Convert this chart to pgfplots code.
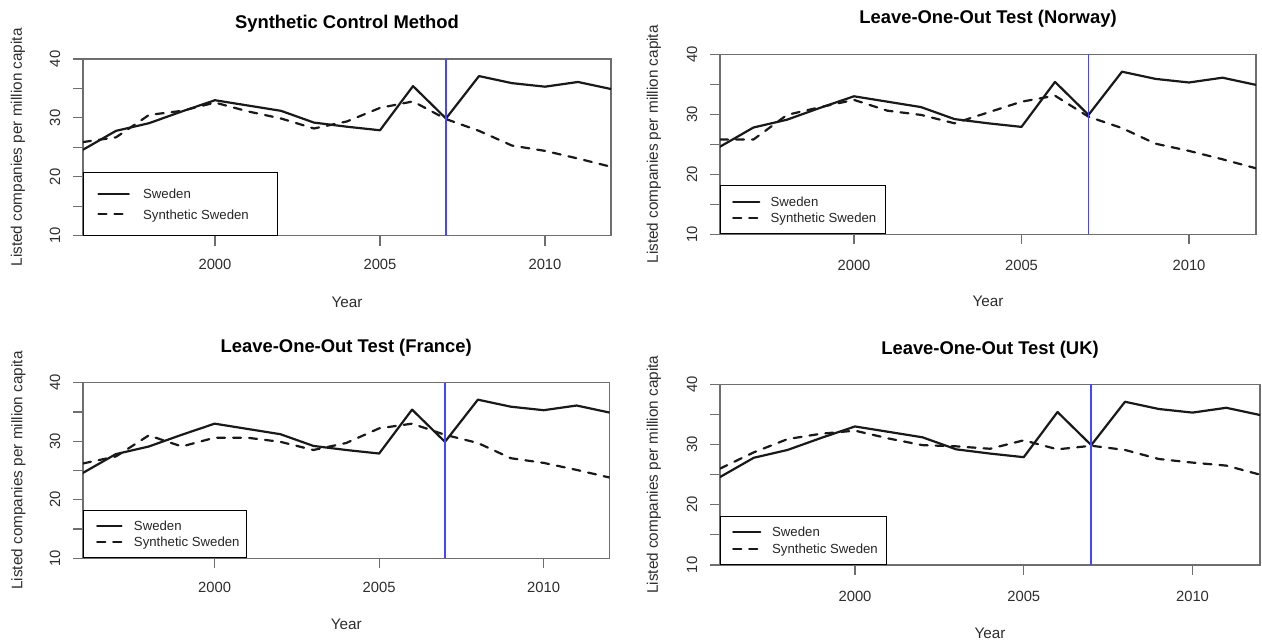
\documentclass[border=0pt]{standalone}
\usepackage{pgfplots}
\pgfplotsset{compat=1.18}
\usepackage{fontspec}
\setmainfont{Liberation Sans}

\definecolor{axgray}{RGB}{110,110,110}
\definecolor{txtgray}{RGB}{45,45,45}
\definecolor{vblue}{RGB}{70,70,255}
\definecolor{lineblk}{RGB}{25,25,25}

% Sweden, actual series (same in every panel)
\pgfplotstableread{
year val
1996 24.6
1997 27.8
1998 29.1
1999 31.1
2000 33.0
2001 32.1
2002 31.2
2003 29.2
2004 28.5
2005 27.9
2006 35.4
2007 29.9
2008 37.1
2009 35.9
2010 35.3
2011 36.1
2012 34.9
}\sweden

% Synthetic Sweden, full donor pool
\pgfplotstableread{
year val
1996 25.9
1997 26.7
1998 30.5
1999 31.2
2000 32.6
2001 31.1
2002 29.9
2003 28.2
2004 29.4
2005 31.7
2006 32.8
2007 29.8
2008 27.8
2009 25.3
2010 24.4
2011 23.1
2012 21.7
}\synall

% Synthetic Sweden without Norway
\pgfplotstableread{
year val
1996 25.8
1997 25.8
1998 29.9
1999 31.2
2000 32.4
2001 30.6
2002 29.9
2003 28.5
2004 30.3
2005 32.1
2006 33.1
2007 29.6
2008 27.7
2009 25.1
2010 23.9
2011 22.5
2012 21.0
}\synnor

% Synthetic Sweden without France
\pgfplotstableread{
year val
1996 26.2
1997 27.4
1998 31.0
1999 29.1
2000 30.6
2001 30.6
2002 29.9
2003 28.5
2004 29.7
2005 32.2
2006 33.0
2007 31.1
2008 29.7
2009 27.1
2010 26.3
2011 25.1
2012 23.8
}\synfra

% Synthetic Sweden without the UK
\pgfplotstableread{
year val
1996 26.0
1997 28.7
1998 30.9
1999 31.8
2000 32.3
2001 31.0
2002 29.9
2003 29.7
2004 29.3
2005 30.7
2006 29.2
2007 29.8
2008 29.1
2009 27.6
2010 27.0
2011 26.5
2012 25.0
}\synuk

\pgfplotsset{
  panel/.style={
    scale only axis,
    xmin=1996, xmax=2012, ymin=10, ymax=40,
    xtick={2000,2005,2010},
    ytick={10,15,...,40},
    yticklabels={10,,20,,30,,40},
    tick pos=left,
    tick align=outside,
    major tick length=10pt,
    axis line style={draw=axgray, line width=1.2pt},
    tick style={draw=axgray, line width=1.2pt},
    /pgf/number format/assume math mode=true,
    /pgf/number format/1000 sep={},
    scaled ticks=false,
    tick label style={font=\fontsize{14.8}{16}\selectfont, text=txtgray},
    xticklabel style={anchor=center},
    yticklabel style={anchor=center, rotate=90},
    yticklabel shift=18pt,
    title style={font=\fontsize{18.4}{20}\selectfont\bfseries, text=black,
      at={(axis description cs:0.5,1)}, anchor=center},
    xlabel style={font=\fontsize{15.3}{17}\selectfont, text=txtgray,
      at={(axis description cs:0.5,0)}, anchor=center},
    ylabel style={font=\fontsize{15.3}{17}\selectfont, text=txtgray, anchor=center},
    xlabel={Year},
    ylabel={Listed companies per million capita},
    legend cell align=left,
    legend image code/.code={%
      \draw[##1] (0pt,0pt) -- (\llen,0pt);
    },
    legend style={at={(axis description cs:0,0)}, anchor=south west,
      draw=black, line width=0.9pt, fill=white,
      nodes={inner sep=0pt, text height=9.3pt, text depth=0pt,
        font=\fontsize{13.2}{15}\selectfont, text=black!85}},
  },
  actual/.style={color=lineblk, line width=2.2pt, line join=round, line cap=round},
  synth/.style={color=lineblk, line width=2.2pt, line join=round, line cap=round,
    dash pattern=on 8pt off 8pt},
  treat/.style={color=vblue, draw=vblue, line width=1.4pt, forget plot},
}

\begin{document}
\begin{tikzpicture}
\useasboundingbox (0pt,0pt) rectangle (1262pt,642pt);

% ---------- Synthetic control method ----------
\def\llen{30.3pt}
\begin{axis}[panel,
  at={(83pt,406.3pt)}, anchor=south west, width=528pt, height=176.7pt,
  title={Synthetic Control Method}, title style={yshift=29.3pt},
  xticklabel shift=18.3pt, xlabel style={yshift=-66.3pt},
  ylabel style={at={(axis description cs:-0.1231,0.5)}},
  legend style={inner xsep=13.9pt, column sep=13.3pt, row sep=11.3pt, inner ysep=16.2pt}]
\addplot[actual] table[x=year, y=val] {\sweden};
\addlegendentry{Sweden}
\addplot[synth] table[x=year, y=val] {\synall};
\addlegendentry{\makebox[120.2pt][l]{Synthetic Sweden}}
\addplot[treat] coordinates {(2007,10) (2007,40)};
\end{axis}

% ---------- Leave-one-out: Norway ----------
\def\llen{26pt}
\begin{axis}[panel,
  at={(720pt,407.7pt)}, anchor=south west, width=536pt, height=180pt,
  title={Leave-One-Out Test (Norway)}, title style={yshift=29.6pt},
  xticklabel shift=20.7pt, xlabel style={yshift=-67.4pt},
  ylabel style={at={(axis description cs:-0.1231,0.5)}},
  legend style={inner xsep=11.7pt, column sep=10.3pt, row sep=6.7pt, inner ysep=11.3pt}]
\addplot[actual] table[x=year, y=val] {\sweden};
\addlegendentry{Sweden}
\addplot[synth] table[x=year, y=val] {\synnor};
\addlegendentry{\makebox[102.9pt][l]{Synthetic Sweden}}
\addplot[treat] coordinates {(2007,10) (2007,40)};
\end{axis}

% ---------- Leave-one-out: France ----------
\def\llen{24.3pt}
\begin{axis}[panel,
  at={(83pt,83.7pt)}, anchor=south west, width=526.5pt, height=175.6pt,
  title={Leave-One-Out Test (France)}, title style={yshift=28.7pt},
  xticklabel shift=19.4pt, xlabel style={yshift=-66pt},
  ylabel style={at={(axis description cs:-0.1229,0.5)}},
  legend style={inner xsep=12.7pt, column sep=11.3pt, row sep=6.4pt, inner ysep=11.2pt}]
\addplot[actual] table[x=year, y=val] {\sweden};
\addlegendentry{Sweden}
\addplot[synth] table[x=year, y=val] {\synfra};
\addlegendentry{\makebox[99.5pt][l]{Synthetic Sweden}}
\addplot[treat] coordinates {(2007,10) (2007,40)};
\end{axis}

% ---------- Leave-one-out: UK ----------
\def\llen{27pt}
\begin{axis}[panel,
  at={(720pt,77pt)}, anchor=south west, width=540pt, height=180.7pt,
  title={Leave-One-Out Test (UK)}, title style={yshift=28.6pt},
  xticklabel shift=21pt, xlabel style={yshift=-68pt},
  ylabel style={at={(axis description cs:-0.1222,0.5)}},
  legend style={inner xsep=11.7pt, column sep=10.8pt, row sep=7.3pt, inner ysep=11.05pt}]
\addplot[actual] table[x=year, y=val] {\sweden};
\addlegendentry{Sweden}
\addplot[synth] table[x=year, y=val] {\synuk};
\addlegendentry{\makebox[102.5pt][l]{Synthetic Sweden}}
\addplot[treat, line width=2pt] coordinates {(2007,10) (2007,40)};
\end{axis}
\end{tikzpicture}
\end{document}
